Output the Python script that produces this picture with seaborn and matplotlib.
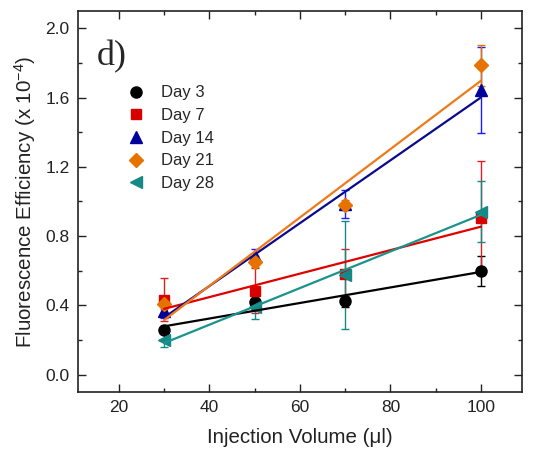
import numpy as np
import pandas as pd
import matplotlib
matplotlib.use("Agg")
import matplotlib.pyplot as plt
import seaborn as sns
from matplotlib.lines import Line2D
from matplotlib.ticker import MultipleLocator

# data
volume = [30, 50, 70, 100]
days = ["Day 3", "Day 7", "Day 14", "Day 21", "Day 28"]
day3 = [0.26, 0.417, 0.423, 0.60]
day7 = [0.432, 0.484, 0.582, 0.903]
day14 = [0.365, 0.686, 0.986, 1.643]
day21 = [0.409, 0.653, 0.98, 1.785]
day28 = [0.198, 0.39, 0.576, 0.941]
err3 = [0.02, 0.04, 0.03, 0.087]
err7 = [0.125, 0.13, 0.146, 0.33]
err14 = [0.04, 0.04, 0.08, 0.25]
err21 = [0.03, 0.03, 0.03, 0.12]
err28 = [0.04, 0.07, 0.31, 0.175]

values = [day3, day7, day14, day21, day28]
errors = [err3, err7, err14, err21, err28]
markers = ["o", "s", "^", "D", "<"]
msizes = [8, 7.5, 8.5, 7.5, 8.5]
colors = ["#000000", "#d90000", "#00009c", "#e67300", "#138a86"]
line_colors = ["#000000", "#e00000", "#0a0a8c", "#ee7a1a", "#1a938d"]
err_colors = ["#000000", "#e02020", "#1a1aff", "#e67300", "#138a86"]

rows = []
for d, v, e in zip(days, values, errors):
    for x, y, s in zip(volume, v, e):
        rows.append({"day": d, "volume": x, "eff": y, "err": s})
df = pd.DataFrame(rows)

sns.set_style("ticks")
plt.rcParams["font.family"] = ["Liberation Sans", "DejaVu Sans"]
plt.rcParams["mathtext.fontset"] = "custom"
plt.rcParams["mathtext.rm"] = "Liberation Sans"
plt.rcParams["mathtext.it"] = "Liberation Sans"

fig = plt.figure(figsize=(5.51, 4.55), dpi=100)
ax = fig.add_axes([0.1416, 0.1385, 0.8054, 0.8375])

for i, d in enumerate(days):
    sub = df[df["day"] == d]
    ax.errorbar(sub["volume"], sub["eff"], yerr=sub["err"], fmt="none",
                ecolor=err_colors[i], elinewidth=1.0, capsize=3, capthick=1.0, zorder=2)
    ax.plot(sub["volume"], sub["eff"], linestyle="none", marker=markers[i],
            ms=msizes[i], color=colors[i], mec=colors[i], zorder=3)
    sns.regplot(data=sub, x="volume", y="eff", scatter=False, ci=None, truncate=True,
                ax=ax, line_kws={"color": line_colors[i], "lw": 1.6, "zorder": 4})

ax.set_xlim(11, 109)
ax.set_ylim(-0.1, 2.1)
ax.xaxis.set_major_locator(MultipleLocator(20))
ax.xaxis.set_minor_locator(MultipleLocator(10))
ax.yaxis.set_major_locator(MultipleLocator(0.4))
ax.yaxis.set_minor_locator(MultipleLocator(0.2))
ax.yaxis.set_major_formatter(matplotlib.ticker.FormatStrFormatter("%.1f"))
ax.tick_params(which="both", direction="in", top=True, right=True,
               labelsize=12.5, colors="#222222", width=1.0)
ax.tick_params(which="major", length=6, pad=6)
ax.tick_params(which="minor", length=3)
for sp in ax.spines.values():
    sp.set_linewidth(1.2)
    sp.set_color("#222222")

ax.set_xlabel("Injection Volume (μl)", fontsize=14.8, labelpad=9, color="#222222")
ax.set_ylabel("Fluorescence Efficiency (x 10$^{-4}$)", fontsize=14.8, labelpad=5, color="#222222")

ax.text(0.043, 0.924, "d)", transform=ax.transAxes, fontsize=26,
        family="Liberation Serif", va="top", ha="left")

handles = [Line2D([], [], linestyle="none", marker=m, ms=s, color=c)
           for m, s, c in zip(markers, msizes, colors)]
ax.legend(handles, days, loc="upper left", bbox_to_anchor=(0.0965, 0.822),
          frameon=False, fontsize=12, handlelength=1.0, handletextpad=1.0,
          labelspacing=0.46, borderaxespad=0)

fig.savefig("out.png", dpi=100)
